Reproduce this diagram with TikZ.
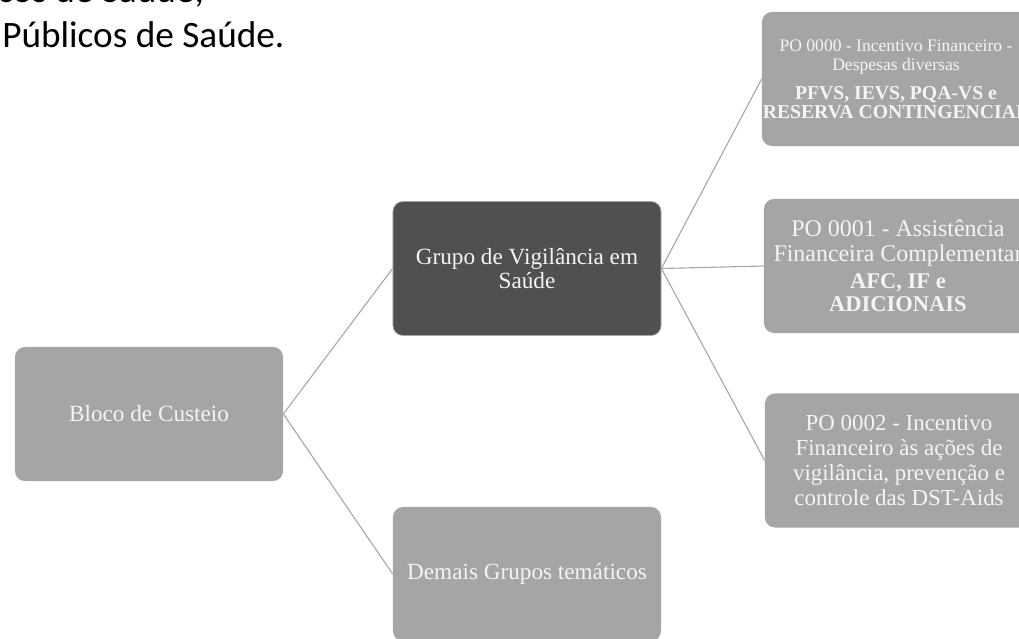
\documentclass[tikz,border=0pt]{standalone}
\usepackage{fontspec}
\setmainfont{Liberation Serif}
\newfontfamily\calibri{Carlito}
\usepackage{xcolor}
\definecolor{caixa}{HTML}{A5A5A5}
\definecolor{caixaescura}{HTML}{505050}
\definecolor{cinzalinha}{HTML}{A8A8A8}
\definecolor{letra}{HTML}{F4F4F4}
\hyphenpenalty=10000
\exhyphenpenalty=10000
\newcommand{\textocaixa}[1]{\parbox{6.5cm}{\centering #1}}

\begin{document}
\begin{tikzpicture}[x=0.025cm, y=-0.025cm,
        bloco/.style={rectangle, rounded corners=0.25cm, fill=caixa, text=letra,
            minimum width=6.7cm, minimum height=3.35cm, inner sep=0pt,
            font=\fontsize{16.5}{17}\selectfont},
        escuro/.style={bloco, fill=caixaescura, draw=black!35, line width=0.5pt},
        ligacao/.style={draw=cinzalinha, line width=0.8pt},
        topo/.style={inner sep=0pt, anchor=base west, font=\calibri\fontsize{26.5}{30}\selectfont}]
        \useasboundingbox (0,0) rectangle (1019,638);
        \clip (0,0) rectangle (1019,638);

        \node[topo] (linha1) at (-3,2) {cos de Saúde,};
        \node[topo] (linha2) at (2,47) {Públicos de Saúde.};

        \node[bloco] (custeio) at (149,414) {Bloco de Custeio};
        \node[escuro] (vigilancia) at (527,268.5) {\textocaixa{Grupo de Vigilância em\\ Saúde}};
        \node[bloco] (demais) at (527,574) {Demais Grupos temáticos};

        \node[bloco] (po0) at (896,79)
            {\textocaixa{{\fontsize{12.5}{14}\selectfont PO 0000 - Incentivo Financeiro -\\ Despesas diversas\par}\vspace{6.5pt}
            {\bfseries\fontsize{14}{13.5}\selectfont PFVS, IEVS, PQA-VS e\\ \makebox[0pt]{RESERVA CONTINGENCIAL}\par}}};
        \node[bloco] (po1) at (898,266)
            {\textocaixa{{\fontsize{17}{17.7}\selectfont PO 0001 - Assistência\\ Financeira Complementar\par}\vspace{2.7pt}
            {\bfseries\fontsize{16}{16.3}\selectfont AFC, IF e\\ ADICIONAIS\par}}};
        \node[bloco] (po2) at (899,460.5)
            {\textocaixa{\fontsize{16.3}{18}\selectfont PO 0002 - Incentivo\\ Financeiro às ações de\\ vigilância, prevenção e\\ controle das DST-Aids\par}};

        \draw[ligacao] (custeio.east) -- (vigilancia.west);
        \draw[ligacao] (custeio.east) -- (demais.west);
        \draw[ligacao] (vigilancia.east) -- (po0.west);
        \draw[ligacao] (vigilancia.east) -- (po1.west);
        \draw[ligacao] (vigilancia.east) -- (po2.west);
\end{tikzpicture}
\end{document}
